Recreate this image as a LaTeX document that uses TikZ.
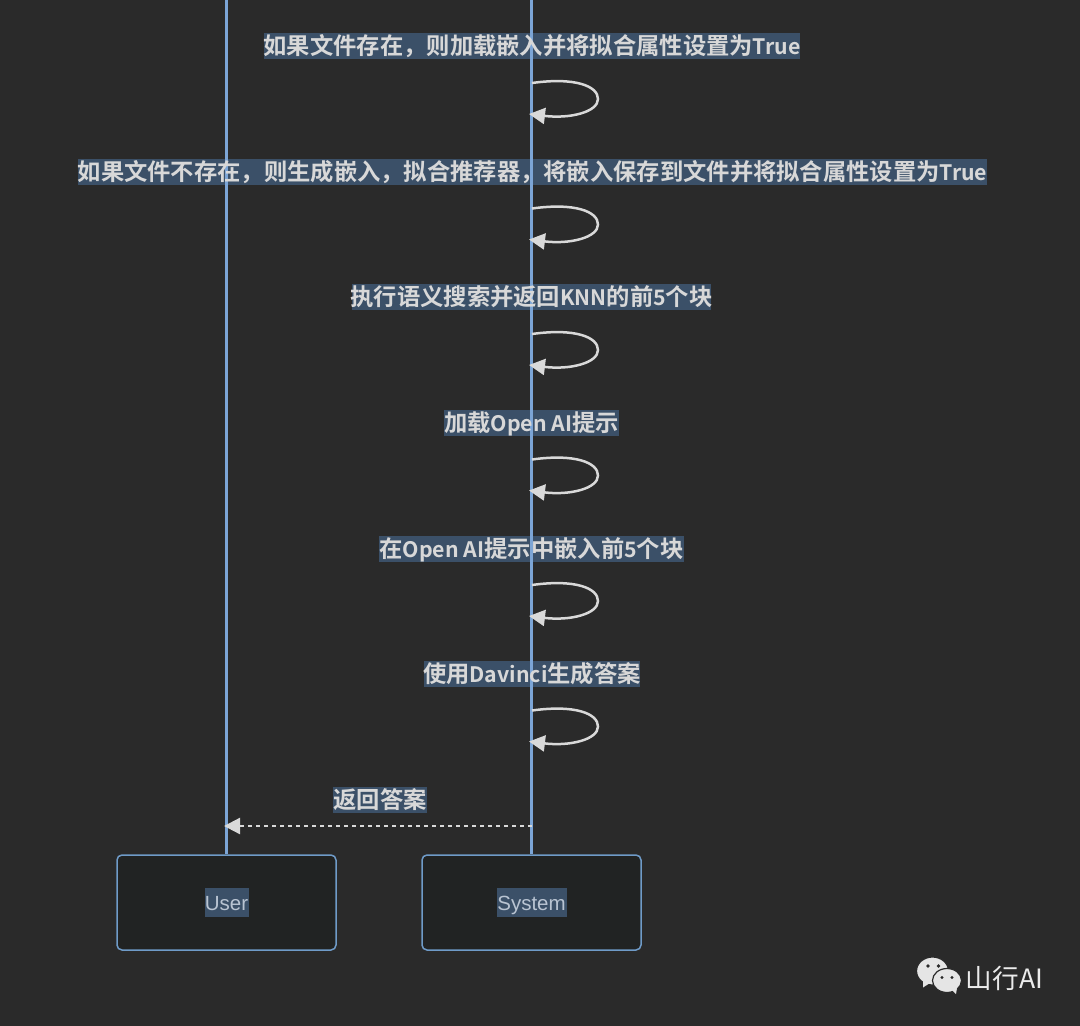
\documentclass[tikz,border=0pt]{standalone}
\usepackage{fontspec}
\setmainfont{Liberation Sans}
\newfontfamily\cjkbold{Noto Sans CJK SC Bold}
\newfontfamily\cjkreg{Noto Sans CJK SC}
\newcommand{\lat}[1]{{\fontsize{21.3}{26}\selectfont #1}}
\usetikzlibrary{arrows.meta}
\definecolor{pagebg}{HTML}{2A2A2A}
\definecolor{boxfill}{HTML}{212323}
\definecolor{boxline}{HTML}{6F9BC8}
\definecolor{lifecol}{HTML}{7CA5D6}
\definecolor{labelbg}{HTML}{3B5068}
\definecolor{inktext}{HTML}{D8D8D8}
\definecolor{boxtext}{HTML}{B9C4D2}
\definecolor{arrowcol}{HTML}{D9D9D9}
\tikzset{
  x=1pt,y=-1pt,
  msgbg/.style={fill=labelbg,inner sep=0pt,minimum height=26pt},
  msgtext/.style={inner sep=0pt,text=inktext,font=\cjkbold\fontsize{23.3}{26}\selectfont,text height=21pt,text depth=4pt},
  namebg/.style={fill=labelbg,inner sep=0pt,minimum height=29pt},
  actor/.style={draw=boxline,line width=1.5pt,fill=boxfill,rounded corners=5pt,minimum width=219pt,minimum height=95pt,inner sep=0pt},
  nametext/.style={inner sep=0pt,text=boxtext,font=\fontsize{20.5}{24}\selectfont,text height=16pt,text depth=0pt},
  lifeline/.style={draw=lifecol,line width=3.2pt},
  selfmsg/.style={draw=arrowcol,line width=2.5pt,-{Triangle[length=16pt,width=16pt]},fill=none},
  retmsg/.style={draw=arrowcol,line width=2.3pt,dash pattern=on 4.5pt off 3.5pt,-{Triangle[length=16pt,width=16pt,sep=0pt]}},
  bubble/.style={fill=#1,draw=pagebg,line width=1.2pt},
}
\begin{document}
\begin{tikzpicture}
\useasboundingbox (0,0) rectangle (1080,1026);
\fill[pagebg] (0,0) rectangle (1080,1026);
% label backgrounds (lifelines run over them)
\node[msgbg,minimum width=536pt] (b1) at (532,45.5) {};
\node[msgbg,minimum width=909pt] (b2) at (532.5,171.5) {};
\node[msgbg,minimum width=359pt] (b3) at (531.5,297) {};
\node[msgbg,minimum width=175pt] (b4) at (531.5,422.5) {};
\node[msgbg,minimum width=305pt] (b5) at (531.5,548.5) {};
\node[msgbg,minimum width=216pt] (b6) at (532,674) {};
\node[msgbg,minimum width=94pt] (b7) at (380,799.5) {};
% actors
\node[actor] (user) at (226.5,902.5) {};
\node[actor] (system) at (531.5,902.5) {};
\coordinate (utop) at (226.2,0);
\coordinate (stop) at (531.8,0);
\draw[lifeline] (utop) -- (utop |- user.north);
\draw[lifeline] (stop) -- (stop |- system.north);
\node[namebg,minimum width=44pt] at (user) {};
\node[namebg,minimum width=70pt] at (system) {};
\node[nametext] (utext) at (user) {User};
\node[nametext] (stext) at (system) {System};
% messages
\node[msgtext] (m1) at (b1) {如果文件存在，则加载嵌入并将拟合属性设置为\lat{True}};
\node[msgtext] (m2) at (b2) {如果文件不存在，则生成嵌入，拟合推荐器，将嵌入保存到文件并将拟合属性设置为\lat{True}};
\node[msgtext] (m3) at (b3) {执行语义搜索并返回\lat{KNN}的前\lat{5}个块};
\node[msgtext] (m4) at (b4) {加载\lat{Open AI}提示};
\node[msgtext] (m5) at (b5) {在\lat{Open AI}提示中嵌入前\lat{5}个块};
\node[msgtext] (m6) at (b6) {使用\lat{Davinci}生成答案};
\node[msgtext] (m7) at (b7) {返回答案};
% self loops
\foreach \i/\y in {1/83,2/208.5,3/334,4/459.5,5/585,6/710.5}{
  \coordinate (a\i) at (532,\y);
  \coordinate (e\i) at (529,\y+31);
  \draw[selfmsg] (a\i) .. controls (575,\y-6) and (598,\y+3) .. (598,\y+16)
     .. controls (598,\y+29) and (570,\y+36) .. (e\i);
}
\coordinate (rs) at (532,826);
\coordinate (ru) at (224,826);
\draw[retmsg] (rs) -- (ru);
% watermark
\draw[bubble=white!90!black] (932.5,971) ellipse [x radius=16,y radius=14];
\fill[white!90!black] (923,981) -- (923,987.5) -- (930,983) -- cycle;
\fill[pagebg] (928,966) circle (1.8) (938.5,966) circle (1.8);
\draw[bubble=white!90!black] (947,980.5) ellipse [x radius=14.5,y radius=12];
\fill[white!90!black] (952,990) -- (956,994) -- (957,988) -- cycle;
\fill[pagebg] (942,977.5) circle (1.6) (952,977.5) circle (1.6);
\node[inner sep=0pt,text=white!92!black,font=\cjkreg\fontsize{26.6}{30}\selectfont] (wm) at (1004.5,978) {山行AI};
\end{tikzpicture}
\end{document}
